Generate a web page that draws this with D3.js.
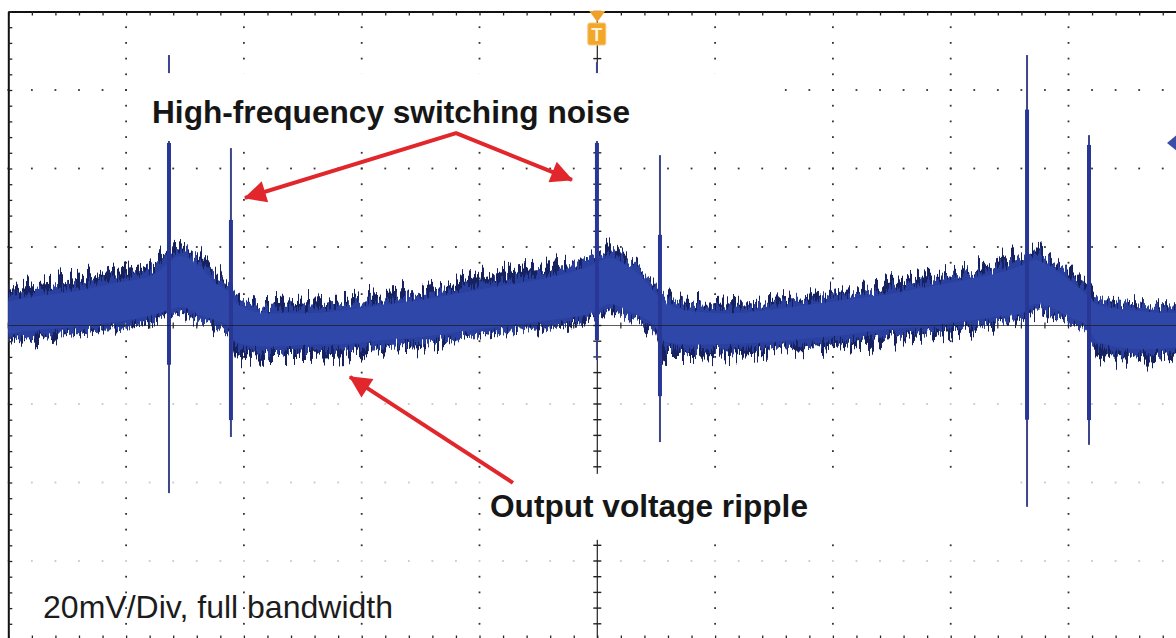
<!DOCTYPE html>
<html>
<head>
<meta charset="utf-8">
<script src="https://cdn.jsdelivr.net/npm/d3@7"></script>
<style>
  html, body { margin: 0; padding: 0; background: #fff; overflow: hidden; }
  svg { display: block; }
</style>
</head>
<body>
<svg id="scope" width="1176" height="638"></svg>
<script>
// Horizontal axis: time in screen divisions (10 div); vertical axis: mV (20 mV/div, 8 div)
const sampleTimes = [0.00, 0.252, 0.583, 0.906, 1.228, 1.339, 1.458, 1.627, 1.755, 1.865, 1.933, 2.205, 2.527, 2.858,
  3.181, 3.503, 3.826, 4.149, 4.480, 4.802, 4.955, 5.108, 5.244, 5.371, 5.473, 5.583, 5.795, 6.118, 6.441, 6.772,
  7.094, 7.417, 7.739, 8.070, 8.393, 8.588, 8.716, 8.843, 9.038, 9.140, 9.250, 9.590, 10.0];
// dense part of the ripple trace (upper / lower edge, mV)
const coreUpper = [7.0, 8.3, 9.6, 11.6, 13.6, 16.2, 18.5, 15.9, 11.6, 9.6, 6.5, 3.9, 3.9, 4.7,
  6.0, 7.3, 9.0, 10.8, 12.4, 14.6, 16.2, 18.0, 16.2, 13.4, 9.8, 6.5, 4.5, 3.9, 4.7, 6.0,
  7.3, 8.5, 10.3, 12.1, 14.1, 15.9, 17.5, 15.9, 11.6, 9.0, 6.0, 4.5, 3.9];
const coreLower = [-2.9, -1.9, -1.1, 0.1, 1.9, 2.9, 3.9, 1.9, 0.6, -1.1, -5.2, -6.2, -5.7, -5.5,
  -4.5, -3.7, -2.4, -1.1, 0.1, 1.4, 2.4, 4.7, 3.2, 1.4, -0.4, -5.0, -5.7, -5.5, -5.0, -4.2,
  -3.2, -1.9, -1.1, 0.1, 1.4, 2.2, 4.7, 3.9, 0.9, -0.4, -5.0, -6.8, -6.2];
// outer reach of the high-frequency noise riding on the ripple (mV)
const noiseUpper = [9.0, 11.6, 12.4, 14.6, 17.2, 19.2, 21.0, 18.0, 14.9, 11.1, 8.3, 6.0, 6.5, 7.3,
  8.5, 9.6, 11.6, 14.1, 15.9, 17.5, 18.7, 21.0, 17.5, 14.9, 11.6, 7.8, 6.0, 6.5, 7.0, 7.8,
  9.6, 10.8, 12.9, 14.1, 16.7, 18.5, 20.0, 18.0, 13.4, 10.8, 7.3, 5.7, 5.7];
const noiseLower = [-5.0, -3.7, -2.4, -1.1, 0.9, 1.9, 2.2, 0.9, -0.6, -2.4, -7.8, -8.8, -8.8, -8.3,
  -6.2, -5.5, -4.2, -1.9, -0.6, 0.6, 1.4, 3.4, 1.9, 0.1, -1.7, -8.8, -8.8, -8.3, -7.5, -6.8,
  -5.5, -5.0, -3.7, -1.7, 0.1, 1.4, 3.4, 2.7, -0.4, -1.7, -8.3, -9.3, -8.0];

// switching transients
const spikeTimes      = [1.364, 1.890, 4.997, 5.532, 8.648, 9.174];
const spikePeak       = [68.9, 45.2, 67.1, 43.4, 68.9, 48.5];
const spikeTrough     = [-42.7, -28.4, -8.8, -29.7, -46.2, -30.4];
const spikeCoreTop    = [46.5, 26.9, 46.5, 23.1, 55.0, 46.0];
const spikeCoreBottom = [-10.0, -24.1, -3.7, -18.0, -24.0, -24.1];

// annotations (time div, mV)
const noiseLabel = "High-frequency switching noise";
const rippleLabel = "Output voltage ripple";
const scaleLabel = "20mV/Div, full bandwidth";
const noiseArrowPts = [[2.009, 32.5], [3.801, 49.0], [4.785, 37.1]];
const rippleArrowPts = [[4.284, -40.1], [2.900, -13.1]];
const noiseLabelPos = [1.220, 51.6];
const rippleLabelPos = [4.089, -48.9];
const scaleLabelPos = [0.295, -74.5];
const noiseBox = [[1.076, 64.3], [6.509, 47.0]];
const rippleBox = [[4.038, -37.8], [8.418, -54.6]];
const triggerTime = 5.0;
const channelRef = 46.5;

const svg = d3.select("#scope");
const W = 1176, H = 638;
svg.append("rect").attr("width", W).attr("height", H).attr("fill", "#fff");

const x = d3.scaleLinear().domain([0, 10]).range([8.3, 1186.3]);
const y = d3.scaleLinear().domain([-80, 80]).range([639.5, 11.5]);

const majorX = d3.range(0, 10.001, 1);
const minorX = d3.range(0, 10.001, 0.2);
const majorY = d3.range(-80, 80.001, 20);
const minorY = d3.range(-80, 80.001, 4);

const defs = svg.append("defs");
// vertical jitter that breaks the trace edge into fine noise streaks
function jitterFilter(id, freq, octaves, seed, scale) {
  const f = defs.append("filter").attr("id", id)
    .attr("x", "-1%").attr("y", "-80%").attr("width", "102%").attr("height", "260%");
  f.append("feTurbulence").attr("type", "fractalNoise").attr("baseFrequency", `${freq} 0.002`)
    .attr("numOctaves", octaves).attr("seed", seed).attr("result", "turb");
  f.append("feColorMatrix").attr("in", "turb").attr("type", "matrix")
    .attr("values", "1.6 0 0 0 -0.3  0 0 0 0 0.5  0 0 0 0 0  0 0 0 0 1").attr("result", "disp");
  f.append("feDisplacementMap").attr("in", "SourceGraphic").attr("in2", "disp")
    .attr("scale", scale).attr("xChannelSelector", "G").attr("yChannelSelector", "R");
}
jitterFilter("hfnoise", 0.42, 2, 11, 28);
jitterFilter("hfnoise2", 0.6, 2, 3, 16);

// arrowhead
defs.append("marker").attr("id", "head").attr("viewBox", "0 0 10 10")
  .attr("refX", 9.5).attr("refY", 5).attr("markerWidth", 26).attr("markerHeight", 22)
  .attr("markerUnits", "userSpaceOnUse").attr("orient", "auto-start-reverse")
  .append("path").attr("d", "M0,0 L10,5 L0,10 Z").attr("fill", "#e1262c");

// ---- graticule dots ----
const grid = svg.append("g");
majorY.filter(v => v > -80 && v < 80 && v !== 0).forEach(v => {
  grid.selectAll(null).data(minorX).join("rect")
    .attr("x", d => x(d) - 0.9).attr("y", y(v) - 0.9).attr("width", 1.8).attr("height", 1.8)
    .attr("fill", v < 0 ? "#c8c8c8" : "#333");
});
majorX.filter(v => v > 0 && v < 10 && v !== 5).forEach(v => {
  grid.selectAll(null).data(minorY.filter(d => d > -80 && d < 80 && !(d < 0 && d % 20 === 0)))
    .join("rect")
    .attr("x", x(v) - 0.9).attr("y", d => y(d) - 0.9).attr("width", 1.8).attr("height", 1.8)
    .attr("fill", "#333");
});

// ---- frame with minor ticks ----
const frame = svg.append("g").attr("class", "frame");
const styleAxis = g => {
  g.select(".domain").attr("stroke", "#111").attr("stroke-width", 2);
  g.selectAll(".tick line").attr("stroke", "#222").attr("stroke-width", 1.3);
  g.selectAll("text").remove();
};
frame.append("g").attr("transform", `translate(0,${y(80)})`)
  .call(d3.axisBottom(x).tickValues(minorX).tickSize(4).tickSizeOuter(0).tickFormat("")).call(styleAxis);
frame.append("g").attr("transform", `translate(0,${y(-80)})`)
  .call(d3.axisTop(x).tickValues(minorX).tickSize(4).tickSizeOuter(0).tickFormat("")).call(styleAxis);
frame.append("g").attr("transform", `translate(${x(0)},0)`)
  .call(d3.axisRight(y).tickValues(minorY).tickSize(4).tickSizeOuter(0).tickFormat("")).call(styleAxis);

// center vertical axis with minor ticks
const cx = x(5);
frame.append("line").attr("x1", cx).attr("x2", cx).attr("y1", y(80)).attr("y2", y(-80))
  .attr("stroke", "#222").attr("stroke-width", 1.2);
frame.selectAll(null).data(minorY).join("line")
  .attr("x1", cx - 4).attr("x2", cx + 4).attr("y1", d => y(d)).attr("y2", d => y(d))
  .attr("stroke", "#222").attr("stroke-width", 1.4);
// center horizontal axis ticks
frame.selectAll(null).data(minorX).join("line")
  .attr("x1", d => x(d)).attr("x2", d => x(d)).attr("y1", y(0) - 3).attr("y2", y(0) + 3)
  .attr("stroke", "#222").attr("stroke-width", 1.2);

// ---- ripple trace ----
const pts = sampleTimes.map((t, i) => ({ t, cu: coreUpper[i], cl: coreLower[i], nu: noiseUpper[i], nl: noiseLower[i] }));
const outerArea = d3.area().x(d => x(d.t))
  .y0(d => y(d.nl + 0.8)).y1(d => y(d.nu - 0.8)).curve(d3.curveMonotoneX);
const coreArea = d3.area().x(d => x(d.t)).y0(d => y(d.cl - 0.6)).y1(d => y(d.cu + 0.6)).curve(d3.curveMonotoneX);

const trace = svg.append("g");
trace.append("path").datum(pts).attr("d", outerArea).attr("fill", "#18205f").attr("filter", "url(#hfnoise)");
trace.append("path").datum(pts).attr("d", coreArea).attr("fill", "#2a3f9f").attr("filter", "url(#hfnoise2)");
trace.append("path").datum(pts)
  .attr("d", d3.area().x(d => x(d.t)).y0(d => y(d.cl + 0.8)).y1(d => y(d.cu - 0.8)).curve(d3.curveMonotoneX))
  .attr("fill", "#3249ad").attr("opacity", 0.8);

// switching spikes
const spikes = spikeTimes.map((t, i) => ({ t, hi: spikePeak[i], lo: spikeTrough[i], ct: spikeCoreTop[i], cb: spikeCoreBottom[i] }));
trace.selectAll(null).data(spikes).join("rect")
  .attr("x", d => x(d.t) - 1).attr("width", 2)
  .attr("y", d => y(d.hi)).attr("height", d => y(d.lo) - y(d.hi))
  .attr("fill", "#3c4688");
trace.selectAll(null).data(spikes).join("rect")
  .attr("x", d => x(d.t) - 2).attr("width", 4)
  .attr("y", d => y(d.ct)).attr("height", d => y(d.cb) - y(d.ct))
  .attr("fill", "#283796");

// center horizontal axis line over the trace
svg.append("line").attr("x1", x(0)).attr("x2", x(10)).attr("y1", y(0)).attr("y2", y(0))
  .attr("stroke", "#1a1a1a").attr("stroke-width", 1.2).attr("opacity", 0.7);

// ---- trigger marker ----
const trig = svg.append("g").attr("transform", `translate(${x(triggerTime)},0)`);
trig.append("path").attr("d", "M-8,11 L8,11 L0,22 Z").attr("fill", "#f0a024");
trig.append("rect").attr("x", -9.5).attr("y", 23).attr("width", 18).attr("height", 22).attr("rx", 2)
  .attr("fill", "#f2a62a").attr("stroke", "#f8c878").attr("stroke-width", 1);
trig.append("text").attr("x", -0.5).attr("y", 40.5).attr("text-anchor", "middle")
  .attr("font-family", "Liberation Sans, Arial, sans-serif").attr("font-weight", "bold")
  .attr("font-size", 18).attr("fill", "#fff3d8").text("T");

// ---- channel reference marker (right edge) ----
svg.append("path")
  .attr("d", `M${W - 9},${y(channelRef)} L${W + 2},${y(channelRef) - 9} L${W + 2},${y(channelRef) + 9} Z`)
  .attr("fill", "#3a4ea6");

// ---- annotation boxes, arrows and labels ----
const ann = svg.append("g");
[noiseBox, rippleBox].forEach(b => {
  ann.append("rect").attr("x", x(b[0][0])).attr("y", y(b[0][1]))
    .attr("width", x(b[1][0]) - x(b[0][0])).attr("height", y(b[1][1]) - y(b[0][1]))
    .attr("fill", "#fff");
});
const arrowLine = d3.line().x(d => x(d[0])).y(d => y(d[1]));
ann.append("path").attr("d", arrowLine(noiseArrowPts)).attr("fill", "none")
  .attr("stroke", "#e1262c").attr("stroke-width", 4).attr("stroke-linejoin", "round")
  .attr("marker-start", "url(#head)").attr("marker-end", "url(#head)");
ann.append("path").attr("d", arrowLine(rippleArrowPts)).attr("fill", "none")
  .attr("stroke", "#e1262c").attr("stroke-width", 4)
  .attr("marker-end", "url(#head)");

const font = "Liberation Sans, Arial, Helvetica, sans-serif";
ann.append("text").attr("x", x(noiseLabelPos[0])).attr("y", y(noiseLabelPos[1]))
  .attr("font-family", font).attr("font-weight", "bold").attr("font-size", 30.5)
  .attr("textLength", 478).attr("lengthAdjust", "spacingAndGlyphs")
  .attr("fill", "#161616").text(noiseLabel);
ann.append("text").attr("x", x(rippleLabelPos[0])).attr("y", y(rippleLabelPos[1]))
  .attr("font-family", font).attr("font-weight", "bold").attr("font-size", 30.5)
  .attr("textLength", 318).attr("lengthAdjust", "spacingAndGlyphs")
  .attr("fill", "#161616").text(rippleLabel);
ann.append("text").attr("x", x(scaleLabelPos[0])).attr("y", y(scaleLabelPos[1]))
  .attr("font-family", font).attr("font-size", 30.5)
  .attr("textLength", 350).attr("lengthAdjust", "spacingAndGlyphs")
  .attr("fill", "#1c1c1c").text(scaleLabel);
</script>
</body>
</html>
